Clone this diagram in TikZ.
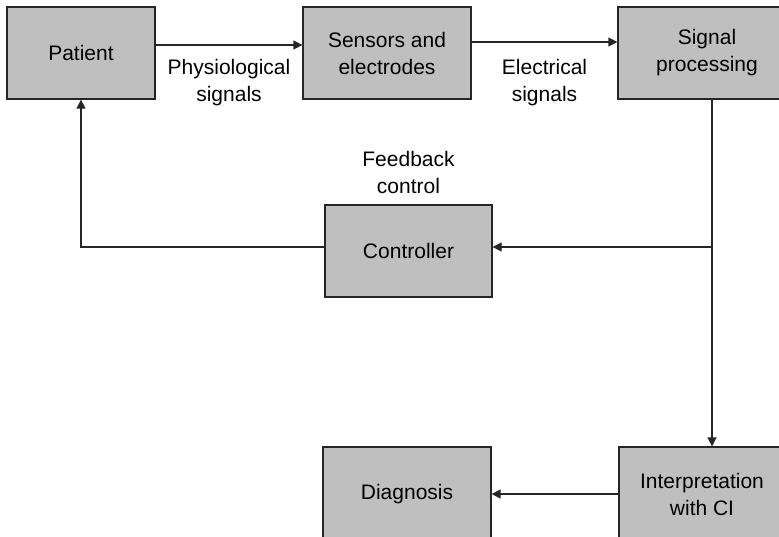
\documentclass[tikz,border=0pt]{standalone}
\usepackage{fontspec}
\setmainfont{Liberation Sans}
\usetikzlibrary{arrows.meta,calc,positioning}

\begin{document}
\begin{tikzpicture}[x=0.5pt,y=-0.5pt,
    font=\fontsize{10.5}{13.5}\selectfont,
    block/.style={draw=black!85,fill=black!25,line width=0.6pt,align=center,minimum height=46pt},
    link/.style={draw=black!85,line width=0.6pt,-{Triangle[length=4.5pt,width=4.5pt]}},
    lbl/.style={align=center,inner sep=0pt}]
    \useasboundingbox (0,0) rectangle (779,536);
    \clip (0,0) rectangle (779,536);
    % top row
    \node[block,minimum width=74pt] (pat) at (81,53) {Patient};
    \node[block,minimum width=84pt] (sens) at (387,53) {Sensors and\\electrodes};
    \node[block,minimum width=89pt] (proc) at (707,53) {Signal\\processing};
    % feedback
    \node[block,minimum width=83.5pt] (ctrl) at (408.5,251) {Controller};
    \node[lbl,above=5pt of ctrl] (fbk) {Feedback\\control};
    % bottom row
    \node[block,minimum width=84pt,minimum height=47pt] (diag) at (407,494) {Diagnosis};
    \node[block,minimum width=83pt,minimum height=47pt] (interp) at (702,494) {Interpretation\\with CI};
    \coordinate (split) at (712,247);
    % connectors
    \draw[link] ($(pat.east)+(0,-8)$) -- ($(sens.west)+(0,-8)$)
        node[midway,below=7pt,lbl] (physio) {Physiological\\signals};
    \draw[link] ($(sens.east)+(0,-11)$) -- ($(proc.west)+(0,-11)$)
        node[midway,below=8.5pt,lbl] (elec) {Electrical\\signals};
    \draw[link] (split |- proc.south) -- (split |- interp.north);
    \draw[link] (split) -- (split -| ctrl.east);
    \draw[link] ($(ctrl.west)+(0,-4)$) -| (pat.south);
    \draw[link] (interp.west) -- (diag.east);
\end{tikzpicture}
\end{document}
